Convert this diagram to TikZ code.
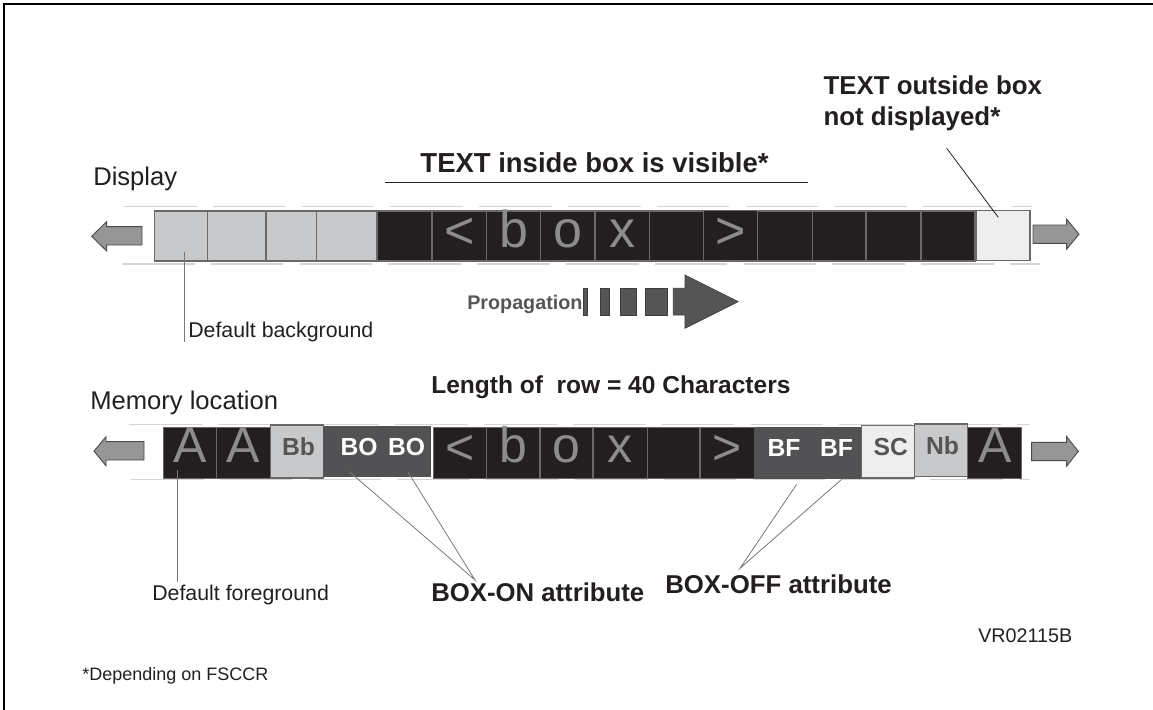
\documentclass[tikz,border=0pt]{standalone}
\usepackage{fontspec}
\setmainfont{Liberation Sans}
\definecolor{lightcell}{RGB}{200,201,203}
\definecolor{palecell}{RGB}{238,238,238}
\definecolor{blackcell}{RGB}{35,31,32}
\definecolor{darkcell}{RGB}{82,82,84}
\definecolor{cellline}{RGB}{105,105,105}
\definecolor{glyphgray}{RGB}{140,140,140}
\definecolor{guidegray}{RGB}{212,212,212}
\definecolor{arrowfill}{RGB}{150,150,150}
\definecolor{propfill}{RGB}{85,85,85}
\definecolor{labelgray}{RGB}{85,85,85}
\definecolor{inkdark}{RGB}{35,31,32}
\definecolor{leadgray}{RGB}{120,120,120}
\newcommand\cellat[6]{%
  \node[#6, inner sep=0pt, minimum width={(#4-#2)*0.75pt}, minimum height={(#5-#3)*0.75pt}]
    (#1) at ({(#2+#4)/2},{(#3+#5)/2}) {};}
\begin{document}
\begin{tikzpicture}[x=0.75pt,y=-0.75pt,
  lightbox/.style={draw=cellline, fill=lightcell, line width=1pt},
  palebox/.style={draw=cellline, fill=palecell, line width=1pt},
  blackbox/.style={draw=cellline, fill=blackcell, line width=1pt},
  darkbox/.style={draw=darkcell, fill=darkcell, line width=1pt},
  bigglyph/.style={text=glyphgray, font=\fontsize{39}{39}\selectfont, inner sep=0pt, anchor=base},
  memglyph/.style={text=glyphgray, font=\fontsize{37.5}{37.5}\selectfont, inner sep=0pt, anchor=base},
  attrwhite/.style={text=white, font=\bfseries\fontsize{18.5}{18.5}\selectfont, inner sep=0pt, anchor=base},
  attrgray/.style={text=labelgray, font=\bfseries\fontsize{18.5}{18.5}\selectfont, inner sep=0pt, anchor=base},
  guide/.style={draw=guidegray, line width=1.1pt, dash pattern=on 54.4pt off 12.2pt},
  blockarrow/.style={draw=inkdark!80, fill=arrowfill, line width=0.7pt},
  propbar/.style={draw=propfill!70!black, fill=propfill, line width=0.5pt},
  leader/.style={draw=leadgray, line width=0.6pt},
  plainlabel/.style={text=inkdark, inner sep=0pt, anchor=base west},
  boldlabel/.style={text=inkdark, inner sep=0pt, font=\bfseries},
]
\useasboundingbox (0,0) rectangle (1153,710);
% frame (top and left edges)
\draw[line width=1.6pt, black] (1153,4.2) -- (3.7,4.2) -- (3.7,710);

% ---------- guide lines ----------
\draw[guide] (124,206.7) -- (1032,206.7);
\draw[guide] (122,264) -- (1040,264);
\draw[guide] (129,424.5) -- (1030,424.5);
\draw[guide] (131,479.5) -- (1030,479.5);

% ---------- display row ----------
\cellat{d1}{154.7}{211}{207.7}{261}{lightbox}
\cellat{d2}{207.7}{211}{266}{261}{lightbox}
\cellat{d3}{266}{211}{316.7}{261}{lightbox}
\cellat{d4}{316.7}{211}{377}{261}{lightbox}
\cellat{d5}{377}{211}{432}{261}{blackbox}
\cellat{d6}{432}{211}{486.7}{261}{blackbox}
\cellat{d7}{486.7}{211}{540.7}{261}{blackbox}
\cellat{d8}{540.7}{211}{595}{261}{blackbox}
\cellat{d9}{595}{211}{649.3}{261}{blackbox}
\cellat{d10}{649.3}{211}{703.3}{261}{blackbox}
\cellat{d11}{703.3}{210.5}{757.3}{261}{blackbox}
\cellat{d12}{757.3}{211}{812.3}{261}{blackbox}
\cellat{d13}{812.3}{211}{866}{261}{blackbox}
\cellat{d14}{866}{211}{921}{261}{blackbox}
\cellat{d15}{921}{211}{975}{261}{blackbox}
\cellat{d16}{976.3}{210.7}{1030}{260.7}{palebox}
\node[bigglyph] (g6) at (459.4,248) {<};
\node[bigglyph] (g7) at (513.7,247) {b};
\node[bigglyph] (g8) at (567.8,247) {o};
\node[bigglyph] (g9) at (622.2,247) {x};
\node[bigglyph] (g11) at (730.3,248) {>};

% display arrows
\draw[blockarrow] (142,226.7) -- (106.7,226.7) -- (106.7,221.7) -- (91.7,236.3) -- (106.7,251) -- (106.7,245) -- (142,245) -- cycle;
\draw[blockarrow] (1033,225) -- (1066.7,225) -- (1066.7,219.3) -- (1079,234.2) -- (1066.7,249) -- (1066.7,243.3) -- (1033,243.3) -- cycle;

% ---------- memory row ----------
\cellat{m1}{163.3}{427.3}{216.3}{478.3}{blackbox}
\cellat{m2}{216.3}{427.3}{270.7}{478.3}{blackbox}
\cellat{m3}{270.7}{425}{323.3}{478}{lightbox}
\cellat{m4}{323.3}{426.7}{430}{476}{darkbox}
\cellat{m5}{433.3}{427.3}{486.7}{478.3}{blackbox}
\cellat{m6}{486.7}{427.3}{540}{478.3}{blackbox}
\cellat{m7}{540}{427.3}{593}{478.3}{blackbox}
\cellat{m8}{593}{427.3}{647.3}{478.3}{blackbox}
\cellat{m9}{647.3}{427.3}{700}{478.3}{blackbox}
\cellat{m10}{700}{427.3}{754.3}{478.3}{blackbox}
\cellat{m11}{754.3}{427.3}{861.7}{478.3}{darkbox}
\cellat{m12}{861.7}{425.7}{914.3}{478}{palebox}
\cellat{m13}{914.3}{424}{967.7}{476.7}{lightbox}
\cellat{m14}{967.7}{427.3}{1021.7}{478.3}{blackbox}
\node[memglyph] (a1) at (190.5,462.7) {A};
\node[memglyph] (a2) at (243.5,462.7) {A};
\node[memglyph] (h5) at (460,464) {<};
\node[memglyph] (h6) at (513.3,462.5) {b};
\node[memglyph] (h7) at (566.5,462.5) {o};
\node[memglyph] (h8) at (620.2,462.5) {x};
\node[memglyph] (h10) at (727.2,464) {>};
\node[memglyph] (a3) at (994.7,462.7) {A};
\node[attrgray] (tbb) at (298.5,455.5) {Bb};
\node[attrwhite] (tbo1) at (359,455.5) {BO};
\node[attrwhite] (tbo2) at (406.5,455.5) {BO};
\node[attrwhite] (tbf1) at (784,456.5) {BF};
\node[attrwhite] (tbf2) at (836.5,456.5) {BF};
\node[attrgray] (tsc) at (890.8,455.5) {SC};
\node[attrgray] (tnb) at (942.5,454.5) {Nb};

% memory arrows
\draw[blockarrow] (144,441.7) -- (106,441.7) -- (106,436.7) -- (94,451.2) -- (106,465.7) -- (106,460) -- (144,460) -- cycle;
\draw[blockarrow] (1031.7,442.3) -- (1066.7,442.3) -- (1066.7,436.7) -- (1078.3,451.4) -- (1066.7,466) -- (1066.7,460.7) -- (1031.7,460.7) -- cycle;

% ---------- propagation ----------
\node[text=labelgray, font=\bfseries\fontsize{14.8}{14.8}\selectfont, inner sep=0pt, anchor=base east] (prop) at (582.7,309) {Propagation};
\draw[propbar] (583.3,288.3) rectangle (587.3,315);
\draw[propbar] (600,288.3) rectangle (609.3,315);
\draw[propbar] (620,288.3) rectangle (636.7,315);
\draw[propbar] (645,288.3) rectangle (667.3,315);
\draw[propbar] (673.3,288.3) -- (685,288.3) -- (685,275) -- (738.3,301.7) -- (685,328.3) -- (685,315) -- (673.3,315) -- cycle;

% ---------- labels ----------
\node[plainlabel, font=\fontsize{19.2}{19.2}\selectfont] (disp) at (93,185) {Display};
\node[plainlabel, font=\fontsize{19.2}{19.2}\selectfont] (mem) at (90,409) {Memory location};
\node[boldlabel, font=\bfseries\fontsize{20.6}{20.6}\selectfont, anchor=base] (inside) at (594.5,172) {TEXT inside box is visible*};
\coordinate (ul1) at (385,182.5);
\coordinate (ul2) at (808.3,182.5);
\draw[line width=1.3pt, inkdark] (ul1) -- (ul2);
\node[boldlabel, font=\bfseries\fontsize{19.4}{23}\selectfont, anchor=base west, align=left] (outside) at (823.3,125) {TEXT outside box\\not displayed*};
\node[boldlabel, font=\bfseries\fontsize{18.4}{18.4}\selectfont, anchor=base west] (length) at (431,393) {Length of \ row = 40 Characters};
\node[plainlabel, font=\fontsize{16}{16}\selectfont] (defbg) at (188,337) {Default background};
\node[plainlabel, font=\fontsize{16}{16}\selectfont] (deffg) at (152,600) {Default foreground};
\node[boldlabel, font=\bfseries\fontsize{19.3}{19.3}\selectfont, anchor=base west] (boxon) at (431,601.7) {BOX-ON attribute};
\node[boldlabel, font=\bfseries\fontsize{19.35}{19.35}\selectfont, anchor=base west] (boxoff) at (665,593.3) {BOX-OFF attribute};
\node[plainlabel, font=\fontsize{14.8}{14.8}\selectfont] (vr) at (978,642) {VR02115B};
\node[plainlabel, font=\fontsize{13.5}{13.5}\selectfont] (foot) at (82,680) {*Depending on FSCCR};

% ---------- leader lines ----------
\coordinate (bgtop) at (184.3,251.7);
\coordinate (bgend) at (184.3,342);
\draw[leader] (bgtop) -- (bgend);
\coordinate (fgtop) at (177.7,470);
\coordinate (fgend) at (177.7,582);
\draw[leader] (fgtop) -- (fgend);
\coordinate (bo1) at (349.7,472);
\coordinate (bo2) at (408,472);
\coordinate (onapex) at (475,580);
\draw[leader] (bo1) -- (onapex) -- (bo2);
\coordinate (bf1) at (796.5,484.5);
\coordinate (bf2) at (841.7,479.3);
\coordinate (offapex) at (740,568.3);
\draw[leader] (bf1) -- (offapex) -- (bf2);
\coordinate (outtip) at (946.7,148.3);
\coordinate (outcell) at (998.3,217.3);
\draw[line width=0.6pt, inkdark] (outtip) -- (outcell);
\end{tikzpicture}
\end{document}
